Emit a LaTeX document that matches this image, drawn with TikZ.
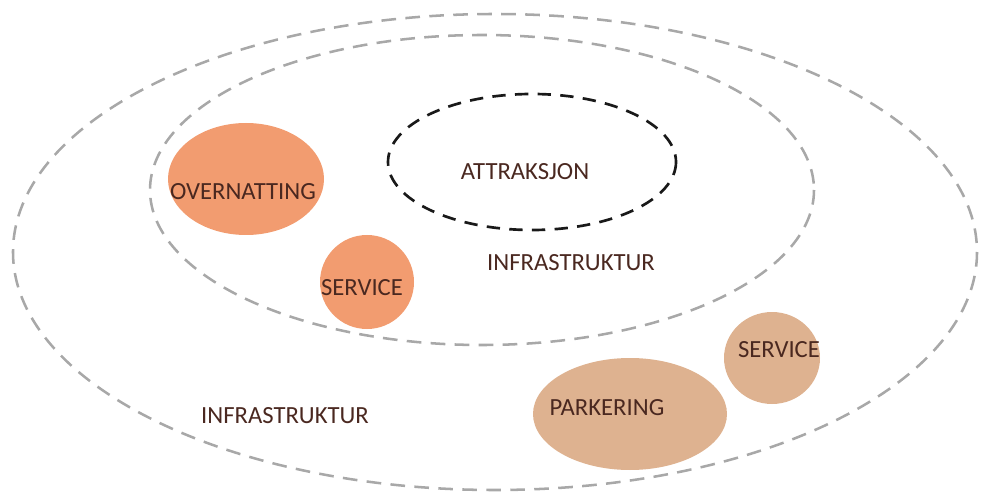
\documentclass[tikz,border=0pt]{standalone}
\usepackage{fontspec}
\setmainfont{Carlito}
\usetikzlibrary{shapes,positioning}
\definecolor{orangefill}{RGB}{242,156,112}
\definecolor{tanfill}{RGB}{222,178,144}
\definecolor{ringgray}{RGB}{168,168,168}
\definecolor{textbrown}{RGB}{74,40,32}
\tikzset{
  ring/.style={draw=ringgray, line width=1.9pt, dash pattern=on 11pt off 7pt},
  corering/.style={draw=black!90, line width=2pt, dash pattern=on 10pt off 7pt},
  lbl/.style={text=textbrown, font=\fontsize{18.5}{20}\selectfont, inner sep=0pt}
}

\begin{document}
\begin{tikzpicture}[x=0.75pt,y=0.75pt,yscale=-1]
\useasboundingbox (0,0) rectangle (981,495);

%Shape: Ellipse outer ring
\draw [ring] (495,252) ellipse (482 and 238);
%Shape: Ellipse inner ring
\draw [ring] (482,190) ellipse (332 and 155);
%Shape: Ellipse attraction
\draw [corering] (532,162) ellipse (144 and 68);

%Shape: Ellipse overnatting
\fill [orangefill] (246,179) ellipse (78 and 56);
%Shape: Circle service inner
\fill [orangefill] (367,282) ellipse (47 and 47);
%Shape: Ellipse parkering
\fill [tanfill] (630,414) ellipse (97 and 56);
%Shape: Circle service outer
\fill [tanfill] (772,358) ellipse (48 and 46);

% Text Node
\node [lbl] (attr) at (525,172) {ATTRAKSJON};
% Text Node
\node [lbl] (overn) at (243,192) {OVERNATTING};
% Text Node
\node [lbl] (servin) at (362,288) {SERVICE};
% Text Node
\node [lbl] (infrain) at (571,263) {INFRASTRUKTUR};
% Text Node
\node [lbl] (infraout) at (285,416) {INFRASTRUKTUR};
% Text Node
\node [lbl] (park) at (607,408) {PARKERING};
% Text Node
\node [lbl] (servout) at (779,350) {SERVICE};

\end{tikzpicture}
\end{document}
